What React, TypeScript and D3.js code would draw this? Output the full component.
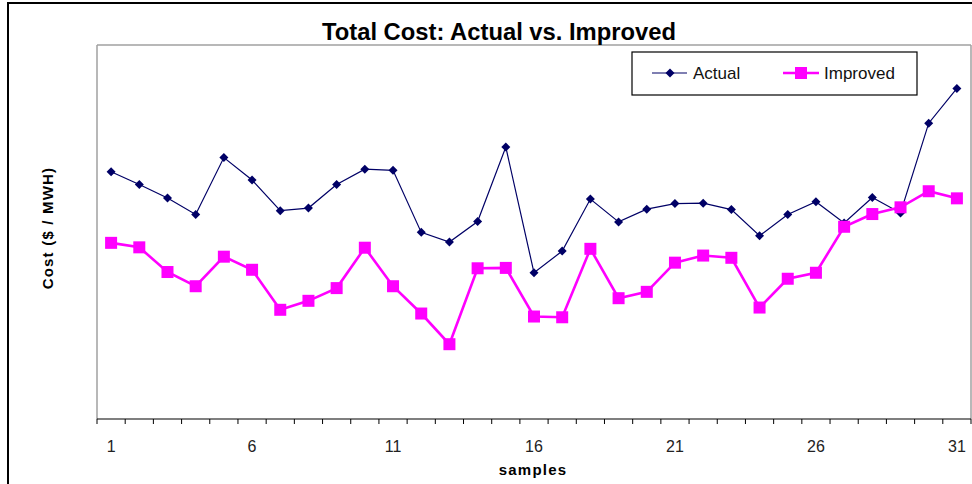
import React from "react";
import * as d3 from "d3";

const samples: number[] = Array.from({ length: 31 }, (_, i) => i + 1);
const actual: number[] = [
  66.1, 62.7, 59.1, 54.7, 69.9, 63.9, 55.7, 56.4, 62.7, 66.8, 66.5, 49.9, 47.3, 52.8, 72.7, 39.1,
  44.9, 58.8, 52.7, 56.1, 57.6, 57.7, 56.0, 49.0, 54.7, 58.1, 52.4, 59.2, 55.1, 79.1, 88.4,
];
const improved: number[] = [
  47.1, 45.9, 39.3, 35.5, 43.4, 39.9, 29.2, 31.6, 35.0, 45.8, 35.5, 28.2, 20.0, 40.3, 40.4, 27.4,
  27.2, 45.5, 32.3, 34.0, 41.8, 43.7, 43.1, 29.8, 37.5, 39.1, 51.4, 54.8, 56.6, 60.9, 59.0,
];
const tickLabels: number[] = [1, 6, 11, 16, 21, 26, 31];

const W = 972;
const H = 484;
const left = 97;
const right = 971;
const top = 45;
const bottom = 419;

const diamond = (r: number) => `M0,${-r}L${r},0L0,${r}L${-r},0Z`;

export default function App() {
  const x = d3.scaleBand<number>().domain(samples).range([left, right]).padding(0);
  const cx = (s: number) => (x(s) as number) + x.bandwidth() / 2;
  const y = d3.scaleLinear().domain([0, 100]).range([bottom, top]);

  const line = d3
    .line<number>()
    .x((_, i) => cx(samples[i]))
    .y((d) => y(d));

  const ticks = d3.range(0, samples.length + 1).map((i) => left + i * x.bandwidth());

  const navy = "#000066";
  const magenta = "#ff00ff";
  const font = "Liberation Sans, Arial, sans-serif";

  return (
    <svg
      width={W}
      height={H}
      style={{ position: "absolute", left: 0, top: 0, background: "#fff" }}
      fontFamily={font}
    >
      <rect x={8} y={3} width={W + 10} height={H + 10} fill="#fff" stroke="#000" strokeWidth={2} />
      {/* plot area */}
      <line x1={left} y1={top} x2={right} y2={top} stroke="#a0a0a0" strokeWidth={1.5} />
      <line x1={left} y1={top} x2={left} y2={bottom} stroke="#a0a0a0" strokeWidth={1.5} />
      <line x1={right} y1={top} x2={right} y2={bottom} stroke="#a0a0a0" strokeWidth={1.5} />
      <line x1={left} y1={bottom} x2={right} y2={bottom} stroke="#000" strokeWidth={1.2} />
      {ticks.map((t, i) => (
        <line key={i} x1={t} x2={t} y1={bottom} y2={bottom + 5} stroke="#000" strokeWidth={1} />
      ))}
      {tickLabels.map((s) => (
        <text key={s} x={cx(s)} y={452} textAnchor="middle" fontSize={16} fill="#222">
          {s}
        </text>
      ))}
      <text x={533} y={475} textAnchor="middle" fontSize={15} fontWeight="bold" letterSpacing={1.2}>
        samples
      </text>
      <text
        transform={`translate(53,228) rotate(-90)`}
        textAnchor="middle"
        fontSize={15}
        fontWeight="bold"
        letterSpacing={1.2}
      >
        Cost ($ / MWH)
      </text>
      <text x={499} y={40} textAnchor="middle" fontSize={23} fontWeight="bold" textLength={354} lengthAdjust="spacingAndGlyphs">
        Total Cost: Actual vs. Improved
      </text>

      {/* series */}
      <path d={line(actual) || ""} fill="none" stroke={navy} strokeWidth={1.2} />
      {actual.map((v, i) => (
        <path key={"a" + i} d={diamond(4.5)} transform={`translate(${cx(samples[i])},${y(v)})`} fill={navy} />
      ))}
      <path d={line(improved) || ""} fill="none" stroke={magenta} strokeWidth={2.6} />
      {improved.map((v, i) => (
        <rect key={"b" + i} x={cx(samples[i]) - 6} y={y(v) - 6} width={12} height={12} fill={magenta} />
      ))}

      {/* legend */}
      <rect x={632} y={52} width={285} height={43} fill="#fff" stroke="#000" strokeWidth={1.2} />
      <line x1={652} x2={687} y1={73} y2={73} stroke={navy} strokeWidth={1.2} />
      <path d={diamond(4.5)} transform="translate(670,73)" fill={navy} />
      <text x={693} y={79} fontSize={17} fill="#111">
        Actual
      </text>
      <line x1={783} x2={819} y1={73} y2={73} stroke={magenta} strokeWidth={2.6} />
      <rect x={795} y={67} width={12} height={12} fill={magenta} />
      <text x={824} y={79} fontSize={17} fill="#111">
        Improved
      </text>
    </svg>
  );
}
